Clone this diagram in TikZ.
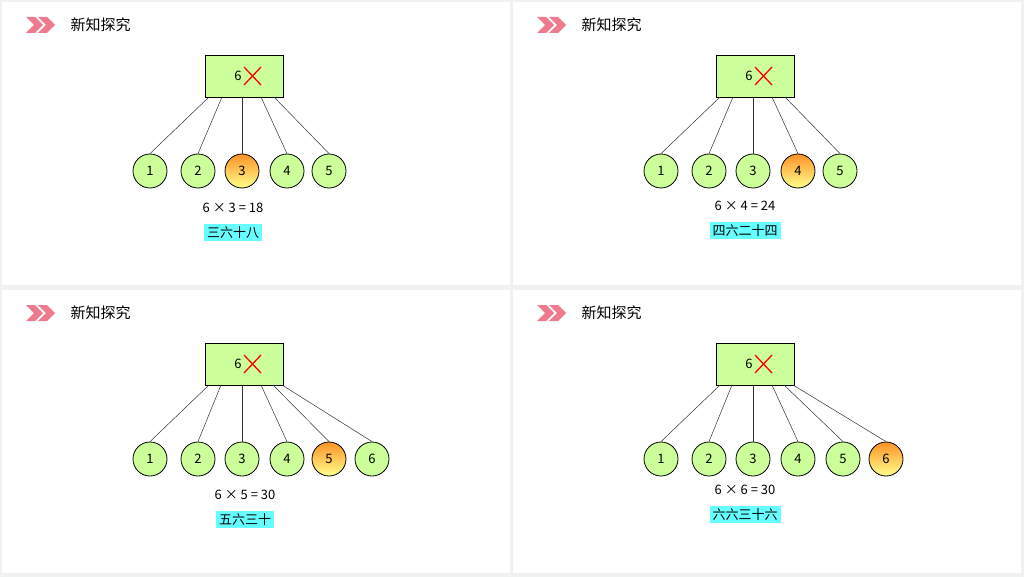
\documentclass[tikz,border=0pt]{standalone}
\usepackage{fontspec}
\setmainfont{Noto Sans CJK SC}
\newfontfamily\cjk{Noto Sans CJK SC}
\usetikzlibrary{positioning}
\definecolor{leafgreen}{HTML}{CCFF99}
\definecolor{tagcyan}{HTML}{66FFFF}
\definecolor{chev}{HTML}{EE7A8E}
\definecolor{frame}{HTML}{F0F2F2}
\newcommand{\midfont}{\fontsize{13}{15}\selectfont}
\tikzset{
  leaf/.style={circle,draw,thick,fill=leafgreen,minimum size=34pt,inner sep=0pt,font=\midfont},
  hot/.style={leaf,top color=orange!85,bottom color=yellow!45},
  rootbox/.style={draw,thick,fill=leafgreen,minimum width=78pt,minimum height=42pt},
  tag/.style={fill=tagcyan,inner sep=3pt,font=\cjk\midfont},
  link/.style={draw=black!80,line width=0.5pt}
}
% one panel: offset x, offset y, leaf list (x/label/style), start list, formula, tag
\newcommand{\panelpart}[7]{
  \begin{scope}[shift={(#1,#2)}]
    \fill[white] (2,2) rectangle (510,285);
    \foreach \cx in {26,38}
      \fill[chev] (\cx,17) -- (\cx+9,17) -- (\cx+17,25) -- (\cx+9,33) -- (\cx,33) -- (\cx+8,25) -- cycle;
    \node[font=\cjk\fontsize{15}{17}\selectfont,anchor=west] (title) at (67,25) {新知探究};
    \node[rootbox] (root) at (244,76) {};
    \node[font=\midfont] (six) at (238,76) {6};
    \draw[red,line width=1.3pt] (244,67) -- (261,85) (261,67) -- (244,85);
    \foreach \lx/\lt/\ls [count=\i] in {#3}
      \node[\ls] (leaf\i) at (\lx,171) {\lt};
    \foreach \sx [count=\i] in {#4}
      \draw[link] (205+\sx,97) -- (leaf\i.north);
    \node[font=\midfont] (formula) at (#5) {#6};
    \node[tag,below=7pt of formula] (label) {#7};
  \end{scope}
}
\begin{document}
\begin{tikzpicture}[x=1pt,y=-1pt]
\fill[frame] (0,0) rectangle (1024,577);
\panelpart{0}{0}{150/1/leaf,198/2/leaf,242/3/hot,287/4/leaf,329/5/leaf}{4,17,37,56,69}{233,208}{6 × 3 = 18}{三六十八}
\panelpart{511}{0}{150/1/leaf,198/2/leaf,242/3/leaf,287/4/hot,329/5/leaf}{4,17,37,56,69}{234,206}{6 × 4 = 24}{四六二十四}
\panelpart{0}{288}{150/1/leaf,198/2/leaf,242/3/leaf,287/4/leaf,329/5/hot,372/6/leaf}{4,16,37,56,68,77}{245,207}{6 × 5 = 30}{五六三十}
\panelpart{511}{288}{150/1/leaf,198/2/leaf,242/3/leaf,287/4/leaf,332/5/leaf,375/6/hot}{4,16,37,56,68,77}{234,202}{6 × 6 = 30}{六六三十六}
\end{tikzpicture}
\end{document}
